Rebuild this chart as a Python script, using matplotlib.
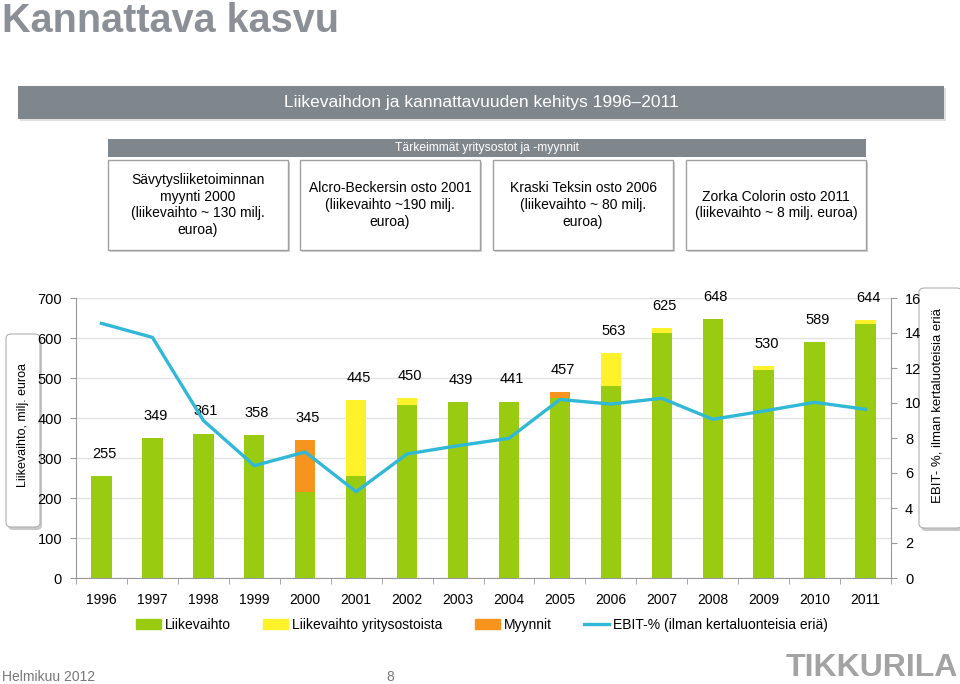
import matplotlib.pyplot as plt
from matplotlib.patches import Rectangle, FancyBboxPatch, Patch
from matplotlib.lines import Line2D
import numpy as np

plt.rcParams['font.family'] = ['Liberation Sans', 'DejaVu Sans']

# data (milj. euroa, EBIT-%)
years = ['1996', '1997', '1998', '1999', '2000', '2001', '2002', '2003',
         '2004', '2005', '2006', '2007', '2008', '2009', '2010', '2011']
organic = [255, 349, 361, 358, 215, 255, 432, 439, 441, 450, 480, 612, 648, 520, 589, 636]
acquired = [0, 0, 0, 0, 0, 190, 18, 0, 0, 0, 83, 13, 0, 10, 0, 8]
divested = [0, 0, 0, 0, 130, 0, 0, 0, 0, 14, 0, 0, 0, 0, 0, 0]
totals = [255, 349, 361, 358, 345, 445, 450, 439, 441, 457, 563, 625, 648, 530, 589, 644]
ebit = [14.55, 13.75, 9.0, 6.42, 7.2, 4.93, 7.09, 7.56, 7.98, 10.2, 9.94, 10.27,
        9.07, 9.54, 10.04, 9.64]

deals = ['Sävytysliiketoiminnan\nmyynti 2000\n(liikevaihto ~ 130 milj.\neuroa)',
         'Alcro-Beckersin osto 2001\n(liikevaihto ~190 milj.\neuroa)',
         'Kraski Teksin osto 2006\n(liikevaihto ~ 80 milj.\neuroa)',
         'Zorka Colorin osto 2011\n(liikevaihto ~ 8 milj. euroa)']

GREEN = '#99cc11'
YELLOW = '#fff22a'
ORANGE = '#f7941d'
BLUE = '#30b8d6'
GRAY = '#7f868c'

W, H = 960, 684
fig = plt.figure(figsize=(9.6, 6.84), dpi=100)


def fx(x):
    return x / W


def fy(y):
    return 1 - y / H


def box(x0, y0, x1, y1, **kw):
    r = Rectangle((fx(x0), fy(y1)), fx(x1 - x0), (y1 - y0) / H,
                  transform=fig.transFigure, **kw)
    fig.patches.append(r)
    return r


# slide title
fig.text(fx(2), fy(32), 'Kannattava kasvu', fontsize=28.5, fontweight='bold',
         color='#8a9096', va='baseline', ha='left')

# header bars
box(20, 88, 946, 121, facecolor='#e0e0e0', edgecolor='none')
box(18, 86, 944, 119, facecolor=GRAY, edgecolor='none')
fig.text(fx(481), fy(103), 'Liikevaihdon ja kannattavuuden kehitys 1996\u20132011',
         fontsize=12.5, color='white', ha='center', va='center')
box(108, 139, 866, 157, facecolor=GRAY, edgecolor='none')
fig.text(fx(487), fy(148), 'Tärkeimmät yritysostot ja -myynnit',
         fontsize=8.7, color='white', ha='center', va='center')

box_x = [108, 300, 493, 686]
for bx, txt in zip(box_x, deals):
    box(bx + 2, 162, bx + 182, 252, facecolor='#d0d0d0', edgecolor='none')
    box(bx, 160, bx + 180, 250, facecolor='white', edgecolor='#a0a0a0', linewidth=1)
    fig.text(fx(bx + 90), fy(205), txt, fontsize=10, ha='center', va='center',
             linespacing=1.25)

# axis label boxes (behind the axes)
for (x0, y0, x1, y1) in [(6, 334, 40, 527), (919, 288, 962, 528)]:
    sh = FancyBboxPatch((fx(x0 + 2), fy(y1 + 3)), fx(x1 - x0), (y1 - y0) / H,
                        boxstyle='round,pad=0,rounding_size=0.006',
                        transform=fig.transFigure, facecolor='#c8c8c8', edgecolor='none',
                        zorder=-2)
    fig.patches.append(sh)
    b = FancyBboxPatch((fx(x0), fy(y1)), fx(x1 - x0), (y1 - y0) / H,
                       boxstyle='round,pad=0,rounding_size=0.006',
                       transform=fig.transFigure, facecolor='white', edgecolor='#b0b0b0',
                       linewidth=0.8, zorder=-1)
    fig.patches.append(b)
fig.text(fx(23), fy(425), 'Liikevaihto, milj. euroa', rotation=90, fontsize=9,
         ha='center', va='center')
fig.text(fx(938), fy(406), 'EBIT- %, ilman kertaluoteisia eriä', rotation=90,
         fontsize=9.5, ha='center', va='center')

# main chart
ax = fig.add_axes([fx(76), fy(578), fx(815), 280 / H])
ax.patch.set_visible(False)
x = np.arange(len(years))
bw = 0.4
org = np.array(organic)
acq = np.array(acquired)
div = np.array(divested)
ax.bar(x, org, bw, color=GREEN, zorder=2, label='Liikevaihto')
ax.bar(x, acq, bw, bottom=org, color=YELLOW, zorder=2, label='Liikevaihto yritysostoista')
ax.bar(x, div, bw, bottom=org + acq, color=ORANGE, zorder=2, label='Myynnit')
for xi, top, t in zip(x, org + acq + div, totals):
    ax.annotate(str(t), (xi, top), xytext=(2, 11), textcoords='offset points',
                ha='center', va='bottom', fontsize=10.5, zorder=5)

ax.set_xlim(-0.5, len(years) - 0.5)
ax.set_ylim(0, 700)
ax.set_yticks(range(0, 701, 100))
ax.grid(True, axis='y', color='#e3e3e3', linewidth=1, zorder=0)
ax.set_axisbelow(True)
ax.set_xticks(x)
ax.set_xticklabels(years)
ax.set_xticks(np.arange(-0.5, len(years)), minor=True)
ax.tick_params(axis='x', which='major', length=0, pad=11, labelsize=10)
ax.tick_params(axis='x', which='minor', length=4, color='#999999')
ax.tick_params(axis='y', length=4, color='#999999', pad=6, labelsize=10.5)
for s in ['top', 'right']:
    ax.spines[s].set_visible(False)
for s in ['left', 'bottom']:
    ax.spines[s].set_color('#999999')

ax2 = ax.twinx()
ax2.plot(x, ebit, color=BLUE, linewidth=2.4, zorder=4)
ax2.set_ylim(0, 16)
ax2.set_yticks(range(0, 17, 2))
ax2.tick_params(axis='y', length=4, color='#999999', pad=6, labelsize=10.5)
for s in ['top', 'left', 'bottom']:
    ax2.spines[s].set_visible(False)
ax2.spines['right'].set_color('#999999')

handles = [Patch(color=GREEN), Patch(color=YELLOW), Patch(color=ORANGE),
           Line2D([0], [0], color=BLUE, linewidth=2.4)]
labels = ['Liikevaihto', 'Liikevaihto yritysostoista', 'Myynnit',
          'EBIT-% (ilman kertaluonteisia eriä)']
fig.legend(handles, labels, loc='center', bbox_to_anchor=(fx(482), fy(625)), ncol=4,
           frameon=False, fontsize=10, handlelength=1.8, handleheight=0.8,
           handletextpad=0.3, columnspacing=2.3)

# footer
fig.text(fx(2), fy(677), 'Helmikuu 2012', fontsize=10, color='#777777', va='center')
fig.text(fx(390), fy(677), '8', fontsize=10, color='#777777', va='center', ha='center')
fig.text(fx(958), fy(683.5), 'TIKKURILA', fontsize=23, fontweight='bold', color='#a3a3a3',
         va='bottom', ha='right')

fig.savefig('out.png', dpi=100)
